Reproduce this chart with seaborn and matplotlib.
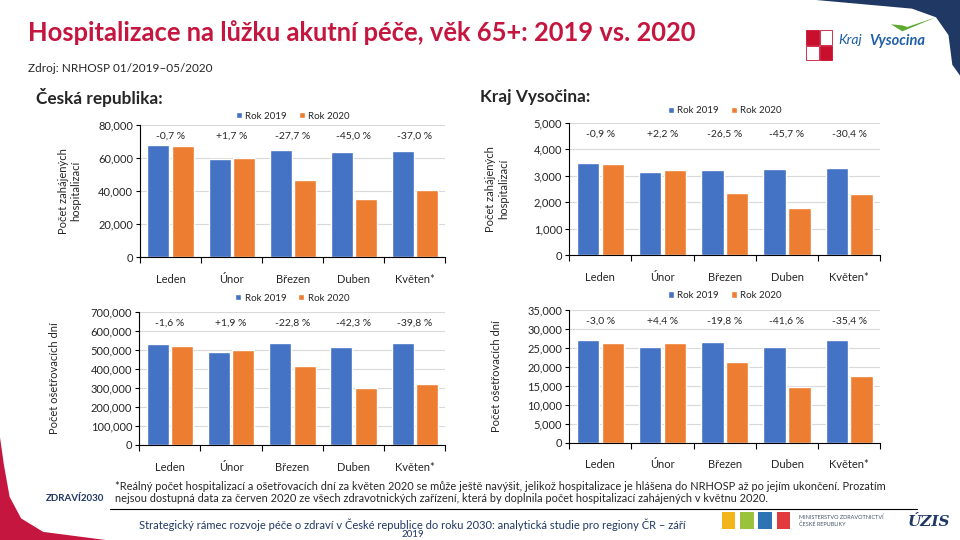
import numpy as np
import pandas as pd
import seaborn as sns
import matplotlib.pyplot as plt
from matplotlib.patches import Rectangle, Polygon

# data
mesice = ["Leden", "Únor", "Březen", "Duben", "Květen*"]
roky = ["Rok 2019", "Rok 2020"]

cr_hosp_2019 = [67900, 59400, 64900, 63700, 64300]
cr_hosp_2020 = [67400, 60300, 46900, 35000, 40500]
cr_hosp_pct = ["-0,7 %", "+1,7 %", "-27,7 %", "-45,0 %", "-37,0 %"]

vy_hosp_2019 = [3480, 3145, 3220, 3258, 3296]
vy_hosp_2020 = [3450, 3214, 2367, 1769, 2294]
vy_hosp_pct = ["-0,9 %", "+2,2 %", "-26,5 %", "-45,7 %", "-30,4 %"]

cr_dny_2019 = [530000, 488000, 535500, 514500, 535500]
cr_dny_2020 = [521500, 497000, 413500, 297000, 322000]
cr_dny_pct = ["-1,6 %", "+1,9 %", "-22,8 %", "-42,3 %", "-39,8 %"]

vy_dny_2019 = [27080, 25240, 26560, 25240, 27080]
vy_dny_2020 = [26270, 26350, 21300, 14740, 17500]
vy_dny_pct = ["-3,0 %", "+4,4 %", "-19,8 %", "-41,6 %", "-35,4 %"]

barvy = {"Rok 2019": "#4472C4", "Rok 2020": "#ED7D31"}
navy = "#1F3864"

sns.set_theme(style="white")
plt.rcParams["font.family"] = ["Lato", "DejaVu Sans"]

fig = plt.figure(figsize=(9.6, 5.4), dpi=100)


def graf(rect, v2019, v2020, pct, ymax, krok, ylabel, legend_y, pad):
    ax = fig.add_axes(rect)
    df = pd.DataFrame({
        "mesic": mesice * 2,
        "rok": [roky[0]] * 5 + [roky[1]] * 5,
        "hodnota": v2019 + v2020,
    })
    sns.barplot(data=df, x="mesic", y="hodnota", hue="rok", palette=barvy,
                width=0.8, gap=0.1, saturation=1, ax=ax, legend=True)
    ax.set_ylim(0, ymax)
    ax.set_xlim(-0.5, 4.5)
    ticks = np.arange(0, ymax + 1, krok)
    ax.set_yticks(ticks)
    ax.set_yticklabels([f"{int(v):,}" for v in ticks], fontsize=8)
    ax.yaxis.grid(True, color="#D9D9D9", linewidth=0.8)
    ax.set_axisbelow(True)
    for s in ["top", "right"]:
        ax.spines[s].set_visible(False)
    for s in ["left", "bottom"]:
        ax.spines[s].set_color("black")
        ax.spines[s].set_linewidth(0.8)
    ax.tick_params(axis="y", left=True, length=3, width=0.8, pad=2, color="black")
    ax.tick_params(axis="x", bottom=False, labelsize=8, pad=6)
    ax.set_xticks(np.arange(-0.5, 5, 1), minor=True)
    ax.tick_params(axis="x", which="minor", bottom=True, length=4, width=0.8,
                   color="black")
    ax.set_xlabel("")
    ax.set_ylabel(ylabel, fontsize=8, labelpad=pad)
    for i, t in enumerate(pct):
        ax.text(i, ymax * 0.915, t, ha="center", va="center", fontsize=7.5)
    h, l = ax.get_legend_handles_labels()
    ax.legend(h, l, loc="center", bbox_to_anchor=(0.5, legend_y), ncol=2,
              frameon=False, fontsize=7, handlelength=0.6, handleheight=0.6,
              handletextpad=0.4, columnspacing=1.2)
    return ax


graf([0.146, 0.524, 0.318, 0.244], cr_hosp_2019, cr_hosp_2020, cr_hosp_pct,
     80000, 20000, "Počet zahájených\nhospitalizací", 1.07, 12)
graf([0.593, 0.527, 0.324, 0.246], vy_hosp_2019, vy_hosp_2020, vy_hosp_pct,
     5000, 1000, "Počet zahájených\nhospitalizací", 1.09, 18)
graf([0.145, 0.176, 0.319, 0.247], cr_dny_2019, cr_dny_2020, cr_dny_pct,
     700000, 100000, "Počet ošetřovacích dní", 1.10, 22)
graf([0.593, 0.180, 0.324, 0.246], vy_dny_2019, vy_dny_2020, vy_dny_pct,
     35000, 5000, "Počet ošetřovacích dní", 1.11, 18)

# texty slidu
fig.text(0.029, 0.94, "Hospitalizace na lůžku akutní péče, věk 65+: 2019 vs. 2020",
         fontsize=18.4, color="#C4163F", fontweight="bold", va="center")
fig.text(0.029, 0.874, "Zdroj: NRHOSP 01/2019–05/2020", fontsize=8.5, va="center")
fig.text(0.038, 0.82, "Česká republika:", fontsize=12.4, fontweight="bold", va="center")
fig.text(0.50, 0.82, "Kraj Vysočina:", fontsize=12.4, fontweight="bold", va="center")

fig.text(0.12, 0.100,
         "*Reálný počet hospitalizací a ošetřovacích dní za květen 2020 se může ještě navýšit, "
         "jelikož hospitalizace je hlášena do NRHOSP až po jejím ukončení. Prozatím",
         fontsize=7.9, va="center")
fig.text(0.12, 0.077,
         "nejsou dostupná data za červen 2020 ze všech zdravotnických zařízení, "
         "která by doplnila počet hospitalizací zahájených v květnu 2020.",
         fontsize=7.9, va="center")
fig.add_artist(plt.Line2D([0.115, 0.955], [0.057, 0.057], color="black", linewidth=0.8))
fig.text(0.43, 0.029,
         "Strategický rámec rozvoje péče o zdraví v České republice do roku 2030: "
         "analytická studie pro regiony ČR – září",
         fontsize=8, color=navy, ha="center", va="center")
fig.text(0.43, 0.001, "2019", fontsize=7, color=navy, ha="center", va="bottom")

# okraje slidu
fig.add_artist(Polygon([(0.85, 1), (1, 1), (1, 0.86), (0.992, 0.88), (0.988, 0.935),
                        (0.975, 0.968), (0.95, 0.984), (0.9, 0.992)],
                       closed=True, transform=fig.transFigure, facecolor=navy,
                       edgecolor="none"))
fig.add_artist(Polygon([(0, 0.19), (0.004, 0.14), (0.01, 0.08), (0.022, 0.04),
                        (0.045, 0.015), (0.11, 0), (0, 0)],
                       closed=True, transform=fig.transFigure, facecolor="#C4163F",
                       edgecolor="none"))

# loga (zjednodušeně)
for x, y, c in [(0.840, 0.917, "#C8102E"), (0.854, 0.917, "#FFFFFF"),
                (0.840, 0.888, "#FFFFFF"), (0.854, 0.888, "#C8102E")]:
    fig.add_artist(Rectangle((x, y), 0.013, 0.027, transform=fig.transFigure,
                             facecolor=c, edgecolor="#C8102E", linewidth=0.6))
fig.add_artist(Polygon([(0.928, 0.955), (0.94, 0.942), (0.975, 0.968), (0.945, 0.95),
                        (0.94, 0.953)], closed=True, transform=fig.transFigure,
                       facecolor="#5DAA2F", edgecolor="none"))
fig.text(0.873, 0.925, "Kraj", fontsize=10, color="#1F5FA8", fontstyle="italic",
         va="center")
fig.text(0.905, 0.925, "Vysocina", fontsize=10.5, color="#1F5FA8",
         fontstyle="italic", fontweight="bold", va="center")
fig.text(0.078, 0.077, "ZDRAVÍ2030", fontsize=7, color=navy,
         fontweight="bold", ha="center", va="center")
for x, c in zip([0.752, 0.771, 0.790, 0.809], ["#F2B51C", "#9AC23C", "#2E74B5", "#E03A3E"]):
    fig.add_artist(Rectangle((x, 0.02), 0.014, 0.032, transform=fig.transFigure,
                             facecolor=c, edgecolor="none"))
fig.text(0.832, 0.036, "MINISTERSTVO ZDRAVOTNICTVÍ\nČESKÉ REPUBLIKY", fontsize=4,
         color="#44546A", ha="left", va="center")
fig.text(0.968, 0.034, "ÚZIS", fontsize=11, color=navy, fontweight="bold",
         fontstyle="italic", family="DejaVu Serif", ha="center", va="center")

fig.savefig("out.png", dpi=100)
